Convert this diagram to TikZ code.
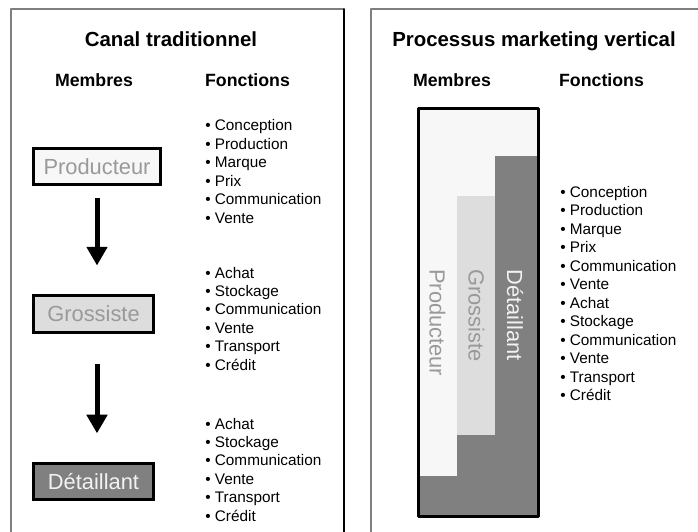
\documentclass[tikz,border=0pt]{standalone}
\usepackage{fontspec}
\setmainfont{Liberation Sans}
\usepackage{tkz-euclide}
\usetikzlibrary{arrows.meta}
\definecolor{frame}{HTML}{7F7F7F}
\definecolor{pfill}{HTML}{F7F7F7}
\definecolor{gfill}{HTML}{DDDDDD}
\definecolor{dfill}{HTML}{808080}
\definecolor{ltext}{HTML}{999999}
\definecolor{dtext}{HTML}{F2F2F2}
\begin{document}
\begin{tikzpicture}[x=.75pt,y=-.75pt,
  title/.style={anchor=base,font=\bfseries\fontsize{15.3}{18}\selectfont},
  head/.style={anchor=base,font=\bfseries\fontsize{13.3}{16}\selectfont},
  item/.style={anchor=base west,inner sep=0pt,font=\fontsize{11.5}{13.8}\selectfont},
  member/.style={draw=black,line width=2.25pt,minimum height=27.5pt,inner sep=0pt,
    font=\fontsize{16.4}{20}\selectfont},
  vert/.style={rotate=-90,anchor=west,inner sep=0pt,font=\fontsize{16.4}{20}\selectfont},
  flow/.style={line width=3.75pt,-{Triangle[width=15pt,length=14pt]}}]
  \useasboundingbox (0,0) rectangle (698,531);
  % panels
  \tkzDefPoints{11/540/a,11/9/b,344/9/c,344/540/d,371/540/e,371/9/f,710/9/g}
  \tkzDrawSegments[color=frame,line width=1.1pt,line cap=square](a,b b,c e,f f,g)
  \tkzDrawSegment[color=black,line width=1.1pt](c,d)
  % canal traditionnel
  \node[title] (t1) at (171,47) {Canal traditionnel};
  \node[head] (m1) at (94,87) {Membres};
  \node[head] (f1) at (247.5,87) {Fonctions};
  \node[member,fill=pfill,text=ltext,minimum width=95.25pt] (prod) at (97,166.5) {Producteur};
  \node[member,fill=gfill,text=ltext,minimum width=90pt] (gros) at (93.5,314) {Grossiste};
  \node[member,fill=dfill,text=dtext,minimum width=90pt] (det) at (93.5,481.5) {Détaillant};
  \draw[flow,shorten <=9pt,shorten >=21.5pt] (prod.south) -- (prod.south |- gros.north);
  \draw[flow,shorten <=22.3pt,shorten >=21.2pt] (prod.south |- gros.south) -- (prod.south |- det.north);
  \foreach \f [count=\i from 0] in {Conception,Production,Marque,Prix,Communication,Vente}
    \node[item] (pa\i) at (205,131+18.4*\i) {\textbullet\ \f};
  \foreach \f [count=\i from 0] in {Achat,Stockage,Communication,Vente,Transport,Crédit}
    \node[item] (pb\i) at (205,278+18.4*\i) {\textbullet\ \f};
  \foreach \f [count=\i from 0] in {Achat,Stockage,Communication,Vente,Transport,Crédit}
    \node[item] (pc\i) at (205,429+18.4*\i) {\textbullet\ \f};
  % processus marketing vertical
  \node[title] (t2) at (534,47) {Processus marketing vertical};
  \node[head] (m2) at (452,87) {Membres};
  \node[head] (f2) at (601.5,87) {Fonctions};
  \tkzDefPoints{418/109/A,538/109/B,538/516/C,418/516/D}
  \tkzDefPoints{457/196/E,495/196/F,495/435/G,457/435/H,495/156/I,538/156/J,418/476/K,457/476/L}
  \tkzFillPolygon[color=pfill](A,B,C,D)
  \tkzFillPolygon[color=gfill](E,F,G,H)
  \tkzFillPolygon[color=dfill](I,J,C,D,K,L,H,G)
  \tkzDrawPolygon[line width=2.25pt](A,B,C,D)
  \node[vert,text=ltext] (vp) at (437.5,269) {Producteur};
  \node[vert,text=ltext] (vg) at (476.5,269) {Grossiste};
  \node[vert,text=dtext] (vd) at (515,269) {Détaillant};
  \foreach \f [count=\i from 0] in {Conception,Production,Marque,Prix,Communication,Vente,
      Achat,Stockage,Communication,Vente,Transport,Crédit}
    \node[item] (pd\i) at (560,197+18.5*\i) {\textbullet\ \f};
\end{tikzpicture}
\end{document}
